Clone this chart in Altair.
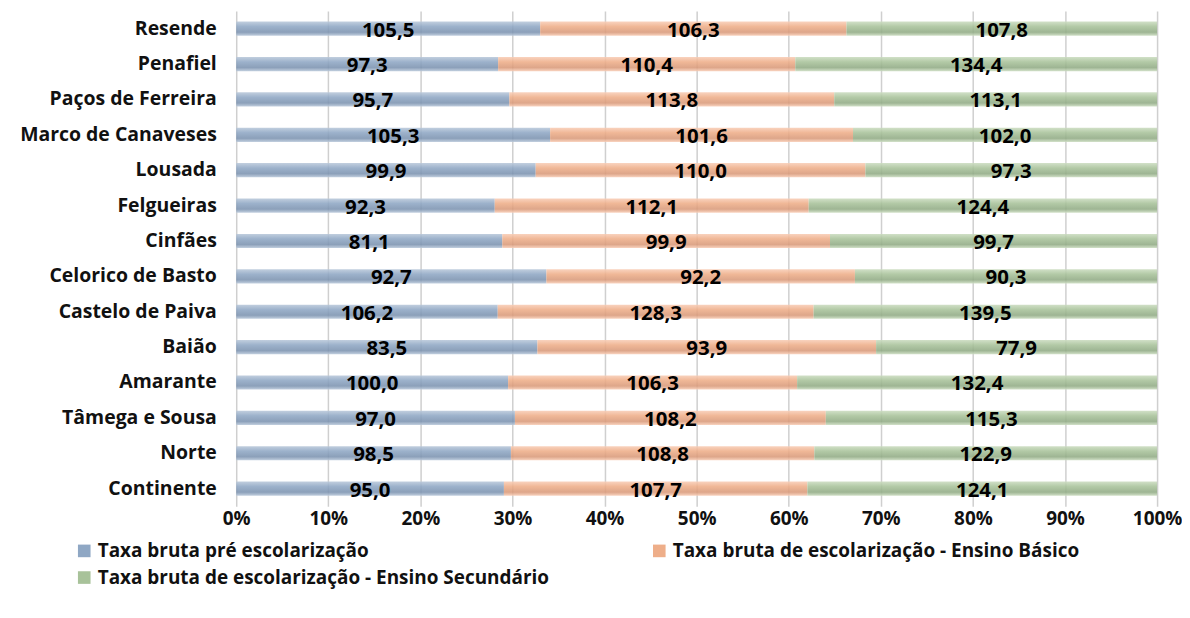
import altair as alt
import pandas as pd

categories = ["Resende", "Penafiel", "Paços de Ferreira", "Marco de Canaveses", "Lousada",
              "Felgueiras", "Cinfães", "Celorico de Basto", "Castelo de Paiva", "Baião",
              "Amarante", "Tâmega e Sousa", "Norte", "Continente"]
pre = [105.5, 97.3, 95.7, 105.3, 99.9, 92.3, 81.1, 92.7, 106.2, 83.5, 100.0, 97.0, 98.5, 95.0]
basico = [106.3, 110.4, 113.8, 101.6, 110.0, 112.1, 99.9, 92.2, 128.3, 93.9, 106.3, 108.2, 108.8, 107.7]
secundario = [107.8, 134.4, 113.1, 102.0, 97.3, 124.4, 99.7, 90.3, 139.5, 77.9, 132.4, 115.3, 122.9, 124.1]
series = ["Taxa bruta pré escolarização",
          "Taxa bruta de escolarização - Ensino Básico",
          "Taxa bruta de escolarização - Ensino Secundário"]
colors = ["#8fa7c4", "#eeae89", "#a8c29a"]
grads = [("#b9c8da", "#8fa7c4", "#7c93b0"),
         ("#f8cdb6", "#eeae89", "#d99a7a"),
         ("#cbdcc0", "#a8c29a", "#91ab85")]

rows = []
for vals, s, o in zip([pre, basico, secundario], series, [0, 1, 2]):
    for c, v in zip(categories, vals):
        rows.append({"cat": c, "serie": s, "v": v, "ord": o})
df = pd.DataFrame(rows)

font = "Open Sans"
base = alt.Chart(df).transform_stack(
    stack="v", groupby=["cat"], as_=["v0", "v1"],
    sort=[alt.SortField("ord", order="ascending")], offset="normalize"
).transform_calculate(
    mid="(datum.v0 + datum.v1) / 2",
    lab="replace(format(datum.v, '.1f'), '.', ',')"
)

yenc = alt.Y("cat:N", sort=categories, title=None,
             scale=alt.Scale(paddingInner=0.6, paddingOuter=0.3),
             axis=alt.Axis(labelFont=font, labelFontWeight="bold", labelFontSize=19.5,
                           labelColor="#111111", ticks=False, domain=False,
                           labelPadding=20, minExtent=227, maxExtent=227, labelLimit=300))
xenc = alt.X("v0:Q", title=None,
             scale=alt.Scale(domain=[0, 1], nice=False, padding=0),
             axis=alt.Axis(format="%", values=[i / 10 for i in range(11)],
                           labelFont=font, labelFontWeight="bold", labelFontSize=19,
                           labelColor="#111111", ticks=False, domain=False,
                           grid=True, gridColor="#cfcfcf", gridWidth=1.5,
                           labelFlush=False, labelPadding=3))

bars = base.mark_bar(opacity=0).encode(
    x=xenc, x2="v1:Q", y=yenc,
    color=alt.Color("serie:N", sort=series,
                    scale=alt.Scale(domain=series, range=colors),
                    legend=alt.Legend(title=None, orient="none", legendX=-162, legendY=532,
                                      direction="horizontal", columns=2, columnPadding=100,
                                      rowPadding=7, symbolType="square", symbolSize=160,
                                      symbolOpacity=1,
                                      labelFont=font, labelFontWeight="bold",
                                      labelFontSize=19, labelColor="#111111",
                                      labelLimit=600, symbolStrokeWidth=0))
)

layers = [bars]
for s, (l, m, d) in zip(series, grads):
    g = alt.Gradient(gradient="linear", x1=0, y1=0, x2=0, y2=1,
                     stops=[alt.GradientStop(offset=0, color=l),
                            alt.GradientStop(offset=0.35, color=m),
                            alt.GradientStop(offset=0.75, color=d),
                            alt.GradientStop(offset=1, color=l)])
    layers.append(base.transform_filter(alt.datum.serie == s).mark_bar(color=g, opacity=0.88).encode(
        x=alt.X("v0:Q"), x2="v1:Q", y=alt.Y("cat:N", sort=categories)))

text = base.mark_text(font=font, fontWeight="bold", fontSize=20.5, color="#000000", dy=2).encode(
    x=alt.X("mid:Q"), y=alt.Y("cat:N", sort=categories), text="lab:N")
layers.append(text)

chart = alt.layer(*layers).properties(
    width=924, height=497,
    padding={"left": 2, "top": 2, "right": 0, "bottom": 5}
).configure_view(stroke=None)

chart.save("out.html", embed_options={"renderer": "svg", "actions": False})
